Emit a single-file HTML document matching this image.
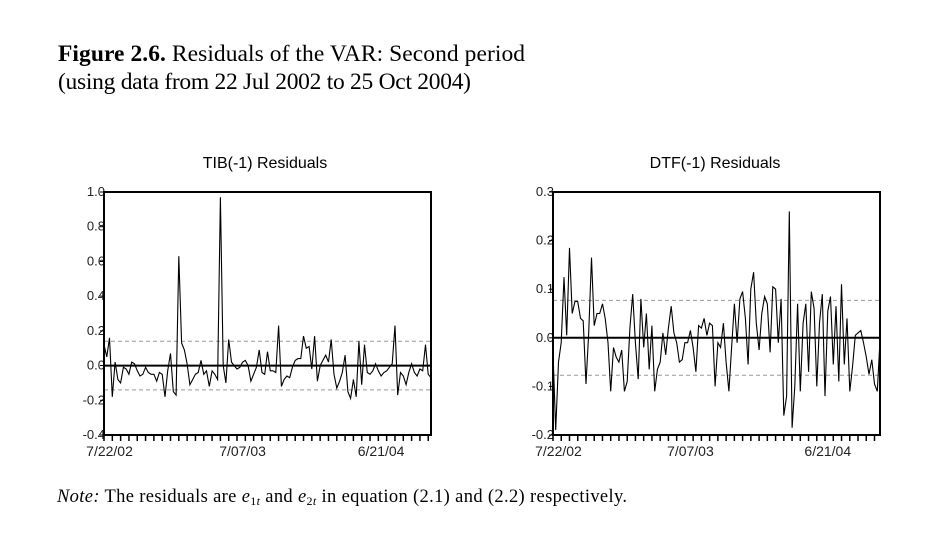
<!DOCTYPE html>
<html><head><meta charset="utf-8"><style>
body{margin:0;background:#fff;width:943px;height:534px;overflow:hidden;}
svg{position:absolute;left:0;top:0;}
</style></head><body>
<svg width="943" height="534" xmlns="http://www.w3.org/2000/svg" id="root">
<text x="58" y="61" font-family="Liberation Serif, serif" font-size="23.5" textLength="467" lengthAdjust="spacing"><tspan font-weight="bold">Figure 2.6.</tspan> Residuals of the VAR: Second period</text>
<text x="58" y="89" font-family="Liberation Serif, serif" font-size="23.5" textLength="413" lengthAdjust="spacing">(using data from 22 Jul 2002 to 25 Oct 2004)</text>
<text x="57" y="502" font-family="Liberation Serif, serif" font-size="18.5" textLength="570" lengthAdjust="spacing"><tspan font-style="italic">Note:</tspan> The residuals are <tspan font-style="italic">e</tspan><tspan font-size="12" dy="3">1<tspan font-style="italic">t</tspan></tspan><tspan dy="-3"> and </tspan><tspan font-style="italic">e</tspan><tspan font-size="12" dy="3">2<tspan font-style="italic">t</tspan></tspan><tspan dy="-3"> in equation (2.1) and (2.2) respectively.</tspan></text>
<g id="c1"></g>
<g id="c2"></g>
</svg>
<script>
const tibValues=[0.12,0.05,0.16,-0.18,0.02,-0.08,-0.1,-0.01,-0.02,-0.05,0.02,0.01,-0.03,-0.06,-0.05,-0.01,-0.04,-0.05,-0.05,-0.09,-0.04,-0.05,-0.18,-0.03,0.07,-0.15,-0.17,0.63,0.13,0.09,0.01,-0.11,-0.08,-0.05,-0.04,0.03,-0.05,-0.03,-0.12,-0.03,-0.05,-0.08,0.97,0.0,-0.1,0.15,0.02,0,-0.02,-0.01,0.02,0.03,0,-0.09,-0.05,-0.01,0.09,-0.04,-0.05,0.08,-0.03,-0.03,-0.04,0.23,-0.12,-0.08,-0.06,-0.07,-0.01,0.03,0.04,0.04,0.17,0.1,0.11,-0.02,0.17,-0.09,0,0.03,0.06,0.02,0.15,-0.05,-0.13,-0.09,-0.04,0.06,-0.15,-0.19,-0.08,-0.18,0.14,-0.11,0.12,-0.04,-0.05,-0.03,0.01,-0.03,-0.06,-0.04,-0.03,-0.01,0.01,0.23,-0.17,-0.04,-0.06,-0.11,-0.04,0.01,-0.04,-0.06,-0.02,-0.03,0.12,-0.05,-0.07];
const dtfValues=[-0.03,-0.19,-0.05,-0.01,0.125,0.005,0.185,0.05,0.075,0.075,0.04,0.035,-0.095,0.01,0.165,0.025,0.05,0.05,0.07,0.04,-0.01,-0.11,-0.02,-0.04,-0.05,-0.025,-0.11,-0.09,0.02,0.09,-0.01,-0.085,0.08,-0.02,0.05,-0.065,0.025,-0.11,-0.065,-0.05,0.01,-0.035,0.02,0.065,0.01,-0.01,-0.05,-0.045,-0.01,-0.01,0.015,-0.02,-0.07,0.025,0.02,0.04,0.005,0.03,0.025,-0.1,-0.01,-0.02,0.03,-0.05,-0.11,-0.02,0.07,-0.01,0.08,0.095,0.04,-0.055,0.1,0.135,0.03,-0.025,0.05,0.085,0.07,-0.03,0.105,0.1,-0.01,0.08,-0.16,-0.12,0.26,-0.185,-0.1,0.07,-0.11,0.03,0.07,-0.07,0.095,0.06,-0.1,0.03,0.09,-0.12,0.055,0.085,-0.055,0.065,-0.09,0.11,-0.055,0.04,-0.11,-0.06,0.005,0.01,0.015,-0.01,-0.04,-0.075,-0.045,-0.095,-0.11,-0.005];
const tibTicks=[1.0,0.8,0.6,0.4,0.2,0.0,-0.2,-0.4];
const dtfTicks=[0.3,0.2,0.1,0.0,-0.1,-0.2];
const tibBand=[0.14,-0.14];
const dtfBand=[0.077,-0.077];
const dateLabels=["7/22/02","7/07/03","6/21/04"];
const dateLabelIndex=[2,50,100];

const NS="http://www.w3.org/2000/svg";
function mk(parent,tag,attrs){const e=document.createElementNS(NS,tag);for(const k in attrs)e.setAttribute(k,attrs[k]);parent.appendChild(e);return e;}

function draw(gid,title,vals,ticks,band,x0,x1,ymax,ymin,titleX){
  const g=document.getElementById(gid);
  const top=192,bot=435;
  const y=v=>top+(ymax-v)/(ymax-ymin)*(bot-top);
  const x=i=>x0+i*(x1-x0)/(vals.length-1);
  const t=mk(g,'text',{x:titleX,y:168,'text-anchor':'middle','font-family':'Liberation Sans, sans-serif','font-size':16});
  t.textContent=title;
  
  
  ticks.forEach(v=>{
    const l=mk(g,'text',{x:x0+1,y:y(v)+4,'text-anchor':'end','font-family':'Liberation Sans, sans-serif','font-size':13,fill:'#222'});
    l.textContent=v.toFixed(1);
    
    
    const tk=mk(g,'line',{x1:x0-4,x2:x0,y1:y(v),y2:y(v),stroke:'#000'});
    
    
  });
  band.forEach(v=>{
    const d=mk(g,'line',{x1:x0,x2:x1,y1:y(v),y2:y(v),stroke:'#999','stroke-dasharray':'4,3','stroke-width':1});
    
    
  });
  const z=mk(g,'line',{x1:x0,x2:x1,y1:y(0),y2:y(0),stroke:'#000','stroke-width':2});
  
  
  const p=mk(g,'polyline',{points:vals.map((v,i)=>x(i).toFixed(1)+','+y(v).toFixed(1)).join(' '),fill:'none',stroke:'#000','stroke-width':1.1});
  
  
  const r=mk(g,'rect',{x:x0,y:top,width:x1-x0,height:bot-top,fill:'none',stroke:'#000','stroke-width':2});
  
  
  for(let i=0;i<vals.length;i+=3){
    const tk=mk(g,'line',{x1:x(i),x2:x(i),y1:bot,y2:bot+6,stroke:'#000','stroke-width':1.5});
    
    
  }
  dateLabels.forEach((s,k)=>{
    const l=mk(g,'text',{x:x(dateLabelIndex[k]),y:bot+21,'text-anchor':'middle','font-family':'Liberation Sans, sans-serif','font-size':14,fill:'#222'});
    l.textContent=s;
    
    
  });
}
draw('c1','TIB(-1) Residuals',tibValues,tibTicks,tibBand,104,431,1.0,-0.4,265);
draw('c2','DTF(-1) Residuals',dtfValues,dtfTicks,dtfBand,553,880,0.3,-0.2,715);
</script>
</body></html>
